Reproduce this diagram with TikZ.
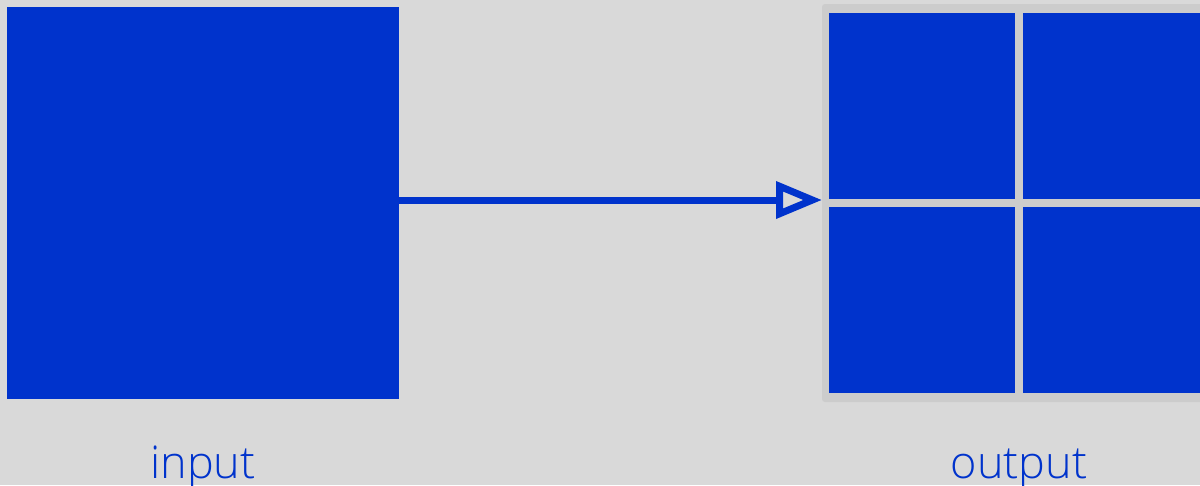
\documentclass[tikz,border=0pt]{standalone}
\usepackage{fontspec}
\setmainfont{Open Sans Light}
\usetikzlibrary{arrows.meta,positioning}
\definecolor{boxblue}{HTML}{0033CC}
\definecolor{bggray}{HTML}{D9D9D9}
\definecolor{framegray}{HTML}{CCCCCC}

\begin{document}
\begin{tikzpicture}[x=1pt,y=-1pt]
\tikzset{cell/.style={fill=boxblue,minimum size=186pt,inner sep=0pt,outer sep=0pt},
  caption/.style={text=boxblue,font=\fontsize{45}{50}\selectfont,anchor=base,inner sep=0pt},
  flow/.style={draw=boxblue,line width=7pt,-{Triangle[open,length=46pt,width=36pt,line width=7pt]}}}
\fill [bggray] (0,0) rectangle (1200,485);
\useasboundingbox (0,0) rectangle (1200,485);
% input block
\node [fill=boxblue,minimum size=392pt,inner sep=0pt,outer sep=0pt] (input) at (203,203) {};
% output block, split in four
\node [fill=framegray,rounded corners=3pt,minimum width=394pt,minimum height=398pt,inner sep=0pt,outer sep=0pt] (output) at (1019,203) {};
\node [cell] (out11) at (922,106) {};
\node [cell] (out12) at (1116,106) {};
\node [cell] (out21) at (922,300) {};
\node [cell] (out22) at (1116,300) {};
\draw [flow] ([yshift=3pt]input.east) -- ([yshift=3pt]output.west);
% captions
\node [caption] (inlabel) at (203,478) {input};
\node [caption] (outlabel) at (1019,478) {output};
\end{tikzpicture}
\end{document}
